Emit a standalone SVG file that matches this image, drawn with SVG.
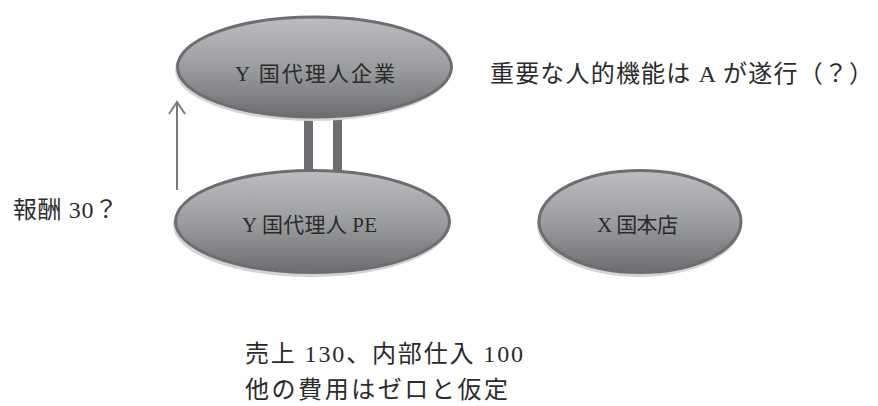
<svg xmlns="http://www.w3.org/2000/svg" width="878" height="406" viewBox="0 0 878 406">
  <defs>
    <linearGradient id="g" x1="0" y1="0" x2="0" y2="1">
      <stop offset="0" stop-color="#bcbdc0"/>
      <stop offset="0.5" stop-color="#9c9da0"/>
      <stop offset="1" stop-color="#6c6d70"/>
    </linearGradient>
    <marker id="ah" viewBox="0 0 20 20" refX="18" refY="10" markerWidth="20" markerHeight="20" markerUnits="userSpaceOnUse" orient="auto">
      <polyline points="6,2 18,10 6,18" fill="none" stroke="#7a7a7a" stroke-width="2"/>
    </marker>
    <style>
      .shadow { fill: #d4d4d4; }
      .body { fill: url(#g); stroke: #6e6e70; stroke-width: 3; }
      .t { font-family: "Liberation Serif", "Noto Sans CJK JP", serif; fill: #2b2b2b; }
      .n { font-size: 21px; }
      .l { font-size: 24px; }
      .bar { fill: #6d6e71; }
    </style>
  </defs>
  <rect width="878" height="406" fill="#ffffff"/>

  <g id="connectors">
    <rect class="bar" x="304" y="118" width="9" height="55"/>
    <rect class="bar" x="333" y="118" width="9" height="55"/>
    <line x1="177" y1="190" x2="177" y2="102" stroke="#7a7a7a" stroke-width="2" marker-end="url(#ah)"/>
  </g>

  <g id="node-y-company">
    <ellipse class="shadow" cx="313" cy="70" rx="138" ry="51"/>
    <ellipse class="body" cx="314.5" cy="67" rx="137" ry="50"/>
    <text class="t n" x="235" y="81" textLength="160" lengthAdjust="spacing">Y 国代理人企業</text>
  </g>

  <g id="node-y-pe">
    <ellipse class="shadow" cx="311" cy="225" rx="138" ry="52"/>
    <ellipse class="body" cx="312.5" cy="221.5" rx="137" ry="51"/>
    <text class="t n" x="242" y="232" textLength="135" lengthAdjust="spacing">Y 国代理人 PE</text>
  </g>

  <g id="node-x-hq">
    <ellipse class="shadow" cx="639" cy="225" rx="102" ry="52"/>
    <ellipse class="body" cx="640" cy="221.5" rx="101" ry="51"/>
    <text class="t n" x="597" y="232" textLength="81" lengthAdjust="spacing">X 国本店</text>
  </g>

  <g id="labels">
    <text class="t l" x="490" y="82" textLength="383" lengthAdjust="spacing">重要な人的機能は A が遂行（？）</text>
    <text class="t l" x="13" y="218" textLength="105" lengthAdjust="spacing">報酬 30？</text>
    <text class="t l" x="245" y="362" textLength="278" lengthAdjust="spacing">売上 130、内部仕入 100</text>
    <text class="t l" x="245" y="398" textLength="263" lengthAdjust="spacing">他の費用はゼロと仮定</text>
  </g>
</svg>
